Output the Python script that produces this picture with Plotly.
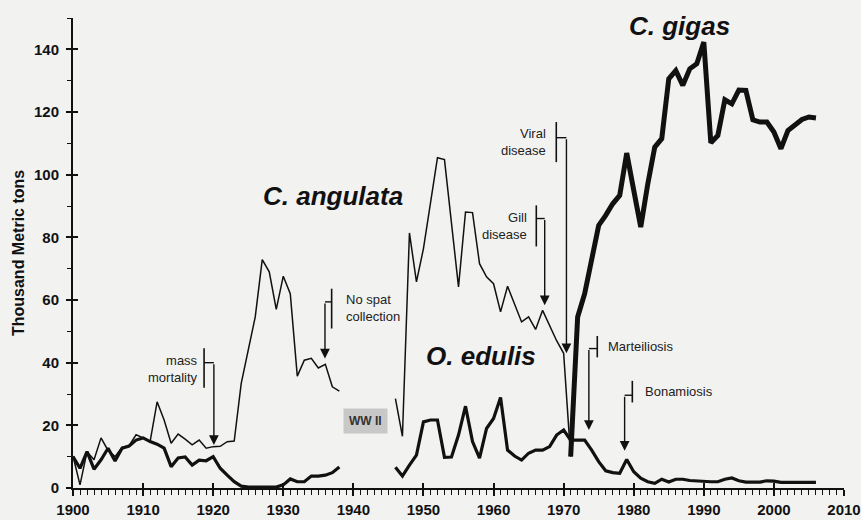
import plotly.graph_objects as go

# ---------------- data (thousand metric tons) ----------------
years_pre = list(range(1900, 1939))
angulata_pre = [10.2, 1.0, 11.6, 9.0, 16.0, 12.0, 10.0, 13.0, 13.5, 17.0,
                16.0, 14.8, 27.5, 21.7, 14.3, 17.2, 15.6, 13.8, 15.3, 12.7,
                13.2, 13.3, 14.8, 15.0, 33.4, 44.0, 54.6, 72.9, 69.0, 57.0,
                67.6, 62.0, 35.7, 40.8, 41.4, 38.3, 39.5, 32.3, 30.9]
edulis_pre = [10.0, 6.3, 11.6, 6.0, 9.0, 12.7, 8.6, 12.7, 13.4, 15.3,
              16.0, 14.8, 14.0, 12.7, 6.8, 9.6, 9.9, 7.3, 8.9, 8.7,
              10.0, 6.3, 4.1, 2.0, 0.6, 0.3, 0.3, 0.3, 0.3, 0.3,
              1.0, 2.9, 2.0, 2.0, 3.8, 3.8, 4.1, 4.9, 6.7]

years_ang_post = list(range(1946, 1972))
angulata_post = [28.5, 16.5, 81.4, 65.8, 76.4, 90.7, 105.4, 104.8, 84.4, 64.2,
                 88.1, 87.9, 71.6, 67.4, 65.2, 56.2, 64.4, 58.9, 53.0, 54.6,
                 50.6, 56.7, 52.0, 47.0, 43.0, 10.0]

years_edu_post = list(range(1946, 2007))
edulis_post = [6.6, 3.8, 7.3, 10.5, 21.1, 21.7, 21.7, 9.8, 9.9, 16.9,
               26.1, 14.8, 9.5, 19.0, 22.2, 28.9, 12.1, 10.2, 8.9, 11.1,
               12.1, 12.1, 13.2, 16.9, 18.5, 15.3, 15.3, 15.3, 12.1, 8.4,
               5.5, 4.9, 4.7, 9.1, 5.2, 3.1, 2.0, 1.5, 2.8, 1.9,
               2.8, 2.8, 2.4, 2.2, 2.2, 2.0, 2.0, 2.8, 3.2, 2.3,
               1.9, 1.9, 1.9, 2.3, 2.2, 1.8, 1.8, 1.8, 1.8, 1.8,
               1.8]

years_gigas = list(range(1971, 2007))
gigas = [10.0, 54.6, 62.0, 72.7, 83.8, 87.0, 90.7, 93.4, 106.9, 95.0,
         83.3, 97.0, 108.8, 111.5, 130.6, 133.2, 128.5, 133.8, 135.4, 142.3,
         110.2, 112.5, 123.9, 122.6, 127.0, 126.9, 117.5, 116.8, 116.8, 113.6,
         108.3, 114.1, 115.7, 117.6, 118.4, 118.1]

x_ticks = [1900, 1910, 1920, 1930, 1940, 1950, 1960, 1970, 1980, 1990, 2000, 2010]
y_ticks = [0, 20, 40, 60, 80, 100, 120, 140]

INK = "#111111"
BG = "#f2f2f1"
FONT = "Liberation Sans, Arial, sans-serif"

fig = go.Figure()

fig.add_trace(go.Scatter(
    x=years_pre + [None] + years_ang_post,
    y=angulata_pre + [None] + angulata_post,
    mode="lines", line=dict(color=INK, width=1.5), connectgaps=False,
    name="C. angulata", hoverinfo="skip"))
fig.add_trace(go.Scatter(
    x=years_pre + [None] + years_edu_post,
    y=edulis_pre + [None] + edulis_post,
    mode="lines", line=dict(color=INK, width=3.2), connectgaps=False,
    name="O. edulis", hoverinfo="skip"))
fig.add_trace(go.Scatter(
    x=years_gigas, y=gigas,
    mode="lines", line=dict(color=INK, width=5),
    name="C. gigas", hoverinfo="skip"))
# dummy trace to carry the overlay axes (crossing ticks)
fig.add_trace(go.Scatter(x=[None], y=[None], xaxis="x2", yaxis="y2",
                         showlegend=False, hoverinfo="skip"))

# ---------------- event brackets & arrows ----------------
events = [
    # text, text_x, text_y, anchor, bar_x, bar_y0, bar_y1, conn_y, arrow_x, tip_y
    ("mass<br>mortality", 1918.1, 38.1, "right", 1918.7, 32.0, 44.6, 40.0, 1920.1, 13.7),
    ("No spat<br>collection", 1938.6, 57.4, "left", 1936.9, 50.9, 63.6, 59.4, 1935.95, 41.3),
    ("Gill<br>disease", 1965.1, 83.7, "right", 1966.1, 77.1, 90.2, 86.0, 1967.3, 58.3),
    ("Viral<br>disease", 1967.8, 110.3, "right", 1968.95, 104.0, 116.8, 111.8, 1970.4, 43.0),
    ("Marteiliosis", 1976.0, 45.3, "left", 1974.8, 41.7, 48.5, 44.5, 1973.6, 18.5),
    ("Bonamiosis", 1981.3, 30.9, "left", 1979.8, 27.3, 34.2, 29.6, 1978.7, 11.9),
]
shapes = []
annotations = []
for (txt, tx, ty, anc, bx, by0, by1, cy, axx, tip) in events:
    shapes.append(dict(type="line", xref="x", yref="y", x0=bx, x1=bx, y0=by0, y1=by1,
                       line=dict(color=INK, width=1.6)))
    shapes.append(dict(type="line", xref="x", yref="y", x0=bx, x1=axx, y0=cy, y1=cy,
                       line=dict(color=INK, width=1.4)))
    annotations.append(dict(x=axx, y=tip, xref="x", yref="y", ax=axx, ay=cy,
                            axref="x", ayref="y", showarrow=True, arrowhead=2,
                            arrowsize=1.4, arrowwidth=1.4, arrowcolor=INK, text="",
                            standoff=0))
    annotations.append(dict(x=tx, y=ty, xref="x", yref="y", text=txt, showarrow=False,
                            xanchor=anc, yanchor="middle", align=anc,
                            font=dict(family=FONT, size=13, color="#222")))

big = dict(family=FONT, size=26, color=INK, weight="bold", style="italic")
annotations += [
    dict(x=1937.1, y=93.3, xref="x", yref="y", text="C. angulata", showarrow=False,
         xanchor="center", yanchor="middle", font=big),
    dict(x=1958.2, y=42.1, xref="x", yref="y", text="O. edulis", showarrow=False,
         xanchor="center", yanchor="middle", font=big),
    dict(x=1986.6, y=0.983, xref="x", yref="paper", text="C. gigas", showarrow=False,
         xanchor="center", yanchor="middle", font=big),
    dict(x=1941.7, y=21.4, xref="x", yref="y", text="WW II", showarrow=False,
         xanchor="center", yanchor="middle", bgcolor="#c8c8c8", borderpad=5,
         font=dict(family=FONT, size=12, color="#333", weight="bold")),
    dict(x=-0.0713, y=0.5, xref="paper", yref="paper", text="Thousand Metric tons",
         showarrow=False, textangle=-90, xanchor="center", yanchor="middle",
         font=dict(family=FONT, size=16, color=INK, weight="bold")),
]

tickfont = dict(family=FONT, size=15, color=INK, weight="bold")

fig.update_layout(
    width=861, height=520,
    margin=dict(l=73, r=17, t=18, b=32, autoexpand=False),
    paper_bgcolor=BG, plot_bgcolor=BG,
    showlegend=False,
    shapes=shapes, annotations=annotations,
    xaxis=dict(range=[1900, 2010], tickvals=x_ticks, ticktext=[str(v) for v in x_ticks],
               showgrid=False, zeroline=False, showline=True, linecolor=INK, linewidth=2,
               ticks="outside", ticklen=6, tickwidth=1.6, tickcolor=INK,
               minor=dict(dtick=1, tick0=1900, ticks="outside", ticklen=5, tickwidth=1.2,
                          tickcolor=INK, showgrid=False),
               tickfont=tickfont, ticklabelstandoff=1, fixedrange=True, automargin=False),
    yaxis=dict(range=[0, 150], tickvals=y_ticks, ticktext=[str(v) for v in y_ticks],
               showgrid=False, zeroline=False, showline=True, linecolor=INK, linewidth=2,
               ticks="outside", ticklen=5, tickwidth=1.6, tickcolor=INK,
               minor=dict(dtick=10, tick0=0, ticks="outside", ticklen=4, tickwidth=1.2,
                          tickcolor=INK, showgrid=False),
               tickfont=tickfont, ticklabelstandoff=4, fixedrange=True, automargin=False),
    xaxis2=dict(range=[1900, 2010], overlaying="x", anchor="y", side="bottom",
                tickvals=x_ticks, showticklabels=False, ticks="inside", ticklen=5,
                tickwidth=1.6, tickcolor=INK, showgrid=False, zeroline=False,
                showline=False, fixedrange=True, automargin=False),
    yaxis2=dict(range=[0, 150], overlaying="y", anchor="x", side="left",
                tickvals=y_ticks, showticklabels=False, ticks="inside", ticklen=5,
                tickwidth=1.6, tickcolor=INK, showgrid=False, zeroline=False,
                showline=False, fixedrange=True, automargin=False),
)

fig.write_html(
    "out.html",
    config={"displayModeBar": False},
    post_script="document.body.style.margin='0';document.body.style.background='%s';" % BG,
)
